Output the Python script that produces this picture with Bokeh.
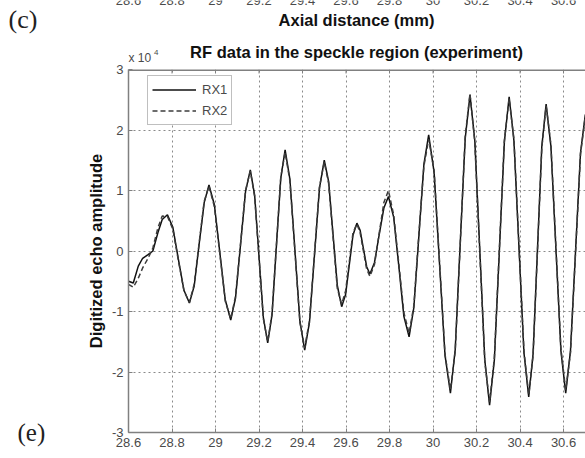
from bokeh.plotting import figure
from bokeh.layouts import column, row
from bokeh.models import Range1d, FixedTicker, PrintfTickFormatter, Label, Legend, LegendItem, Span
from bokeh.embed import file_html
from bokeh.resources import INLINE

# ---------------- data (amplitudes in units of 10^4) ----------------
axial_mm = [
    28.600, 28.622, 28.645, 28.665, 28.690, 28.712, 28.735, 28.755, 28.779, 28.804,
    28.829, 28.855, 28.880, 28.902, 28.925, 28.948, 28.970, 28.995, 29.020, 29.045,
    29.070, 29.092, 29.115, 29.138, 29.160, 29.180, 29.200, 29.220, 29.240, 29.260,
    29.280, 29.300, 29.320, 29.342, 29.365, 29.388, 29.410, 29.432, 29.455, 29.478,
    29.500, 29.520, 29.540, 29.560, 29.580, 29.598, 29.615, 29.632, 29.650, 29.665,
    29.680, 29.695, 29.710, 29.731, 29.752, 29.774, 29.795, 29.819, 29.843, 29.866,
    29.890, 29.912, 29.935, 29.958, 29.980, 30.005, 30.030, 30.055, 30.080, 30.102,
    30.125, 30.148, 30.170, 30.192, 30.215, 30.238, 30.260, 30.282, 30.305, 30.328,
    30.350, 30.372, 30.395, 30.418, 30.440, 30.460, 30.480, 30.500, 30.520, 30.542,
    30.565, 30.588, 30.610, 30.632, 30.655, 30.678, 30.700, 30.720,
]
rx1 = [
    -0.50, -0.53, -0.25, -0.12, -0.06, 0.00, 0.30, 0.52, 0.60, 0.39,
    -0.13, -0.65, -0.86, -0.58, 0.12, 0.80, 1.09, 0.76, -0.03, -0.81,
    -1.14, -0.78, 0.10, 0.98, 1.34, 0.92, -0.09, -1.10, -1.52, -1.05,
    0.08, 1.20, 1.67, 1.19, 0.02, -1.16, -1.64, -1.18, -0.07, 1.04,
    1.50, 1.15, 0.29, -0.57, -0.92, -0.72, -0.23, 0.26, 0.46, 0.34,
    0.04, -0.26, -0.38, -0.19, 0.26, 0.71, 0.90, 0.56, -0.26, -1.08,
    -1.42, -0.93, 0.25, 1.43, 1.92, 1.30, -0.22, -1.72, -2.35, -1.63,
    0.12, 1.86, 2.58, 1.83, 0.02, -1.80, -2.55, -1.80, 0.00, 1.80,
    2.55, 1.82, 0.07, -1.68, -2.41, -1.70, 0.01, 1.72, 2.43, 1.73,
    0.04, -1.65, -2.35, -1.65, -0.02, 1.62, 2.25, 2.30,
]
rx2 = [
    -0.55, -0.60, -0.45, -0.28, -0.12, 0.05, 0.38, 0.58, 0.57, 0.36,
    -0.15, -0.66, -0.85, -0.55, 0.14, 0.82, 1.07, 0.73, -0.05, -0.83,
    -1.12, -0.75, 0.12, 1.00, 1.32, 0.90, -0.11, -1.12, -1.50, -1.03,
    0.10, 1.22, 1.63, 1.16, 0.00, -1.18, -1.60, -1.15, -0.05, 1.06,
    1.47, 1.12, 0.25, -0.62, -0.88, -0.66, -0.18, 0.30, 0.45, 0.30,
    0.00, -0.30, -0.42, -0.22, 0.28, 0.80, 1.00, 0.60, -0.22, -1.02,
    -1.36, -0.90, 0.28, 1.40, 1.85, 1.33, -0.18, -1.70, -2.30, -1.66,
    0.10, 1.90, 2.60, 1.80, -0.02, -1.83, -2.50, -1.77, 0.03, 1.83,
    2.52, 1.85, 0.10, -1.65, -2.38, -1.73, -0.02, 1.70, 2.40, 1.76,
    0.07, -1.62, -2.30, -1.68, -0.05, 1.60, 2.22, 2.28,
]
series_names = ["RX1", "RX2"]
x_ticks = [28.6, 28.8, 29.0, 29.2, 29.4, 29.6, 29.8, 30.0, 30.2, 30.4, 30.6]
y_ticks = [-3, -2, -1, 0, 1, 2, 3]
title_text = "RF data in the speckle region (experiment)"
x_label = "Axial distance (mm)"
y_label = "Digitized echo amplitude"

# ---------------- geometry (page pixels) ----------------
W, H = 585, 458
FL, FR, FT, FB = 128, 585, 69, 432      # frame edges of the main plot
X0, X1 = 28.6, 30.701
Y0, Y1 = -3, 3
TOP_H = 63          # strip above the main plot
LEFT_W = 60         # strip left of the main plot
BOT_H = 4           # strip below the main plot
MID_H = H - TOP_H - BOT_H

def sx(px):
    return X0 + (px - FL) * (X1 - X0) / (FR - FL)

GRAY = "#808080"
TXT = "#4a4a4a"
FONT = "Liberation Sans"
SERIF = "Liberation Serif"

def no_frame_align(f):
    try:
        f.frame_align = False
    except Exception:
        pass

def strip(width, height, xr, yr):
    f = figure(width=width, height=height, x_range=xr, y_range=yr, title=None,
               output_backend="svg", toolbar_location=None,
               x_axis_location=None, y_axis_location=None,
               min_border=0, min_border_left=0, min_border_right=0,
               min_border_top=0, min_border_bottom=0)
    f.grid.visible = False
    f.outline_line_color = None
    f.background_fill_color = "white"
    f.border_fill_color = "white"
    no_frame_align(f)
    return f

def lab(f, x, baseline, text, size, align="left", bold=False, color="#111111", font=FONT):
    # labels are anchored at the middle of their text box; convert from a baseline
    k = 0.34 if font == SERIF else 0.35
    f.add_layout(Label(x=x, y=baseline - k * size, text=text, text_align=align,
                       text_baseline="middle", text_font=font,
                       text_font_size="%gpx" % size, text_color=color,
                       text_font_style="bold" if bold else "normal"))

# ---------------- main plot ----------------
p = figure(width=W - LEFT_W, height=MID_H, x_range=Range1d(X0, X1), y_range=Range1d(Y0, Y1),
           title=None, output_backend="svg", toolbar_location=None,
           min_border_left=FL - LEFT_W, min_border_right=W - FR,
           min_border_top=FT - TOP_H, min_border_bottom=TOP_H + MID_H - FB)
p.outline_line_color = None
p.background_fill_color = "white"
p.border_fill_color = "white"
no_frame_align(p)

r1 = p.line(axial_mm, rx1, line_color="#111111", line_width=1.5)
r2 = p.line(axial_mm, rx2, line_color="#3c3c3c", line_width=1.5, line_dash="5 3")

p.xaxis.ticker = FixedTicker(ticks=x_ticks)
p.yaxis.ticker = FixedTicker(ticks=y_ticks)
p.xaxis.formatter = PrintfTickFormatter(format="%g")
p.yaxis.formatter = PrintfTickFormatter(format="%g")
for ax in list(p.xaxis) + list(p.yaxis):
    ax.axis_line_color = GRAY
    ax.axis_line_width = 1.5
    ax.major_tick_line_color = GRAY
    ax.major_tick_in = 4
    ax.major_tick_out = 0
    ax.minor_tick_line_color = None
    ax.major_label_text_font = FONT
    ax.major_label_text_font_size = "13px"
    ax.major_label_text_color = TXT
    ax.major_label_standoff = 5
p.yaxis.axis_label = y_label
p.yaxis.axis_label_text_font = FONT
p.yaxis.axis_label_text_font_style = "bold"
p.yaxis.axis_label_text_font_size = "16.5px"
p.yaxis.axis_label_text_color = "#111111"
p.yaxis.axis_label_standoff = 4

# top edge of the box with inward ticks
p.add_layout(Span(location=Y1, dimension="width", line_color=GRAY, line_width=3))
tick_len = 4 * (Y1 - Y0) / (FB - FT)
p.segment(x0=x_ticks, y0=[Y1] * len(x_ticks), x1=x_ticks,
          y1=[Y1 - tick_len] * len(x_ticks), line_color=GRAY, line_width=1)

p.xgrid.ticker = FixedTicker(ticks=x_ticks)
p.ygrid.ticker = FixedTicker(ticks=y_ticks)
for g in (p.xgrid, p.ygrid):
    g.grid_line_color = "#8a8a8a"
    g.grid_line_dash = "2 3"
    g.grid_line_width = 1

legend = Legend(items=[LegendItem(label=series_names[0], renderers=[r1]),
                       LegendItem(label=series_names[1], renderers=[r2])],
                location=(19, 307), orientation="vertical",
                glyph_width=44, glyph_height=19, label_height=19,
                label_standoff=6, spacing=2, padding=4, margin=0,
                border_line_color=GRAY, border_line_width=1,
                background_fill_color="white", background_fill_alpha=1,
                label_text_font=FONT, label_text_font_size="13px",
                label_text_color=TXT)
p.add_layout(legend)

# ---------------- strip above: remnants of panel (c) and this title ----------------
top = strip(W, TOP_H, Range1d(sx(0), sx(W)), Range1d(TOP_H, 0))
for t in x_ticks:
    lab(top, t, 5, "%g" % t, 13, align="center", color=TXT)
lab(top, sx(356), 25, x_label, 16.5, align="center", bold=True)
lab(top, sx(8), 27.5, "(c)", 26, font=SERIF, color="#222222")
lab(top, sx(356), 57.5, title_text, 16.5, align="center", bold=True)
lab(top, sx(128), 62, "x 10", 12, color=TXT)
lab(top, sx(153.5), 55, "4", 8, color=TXT)

# ---------------- strip at left: panel letter (e) ----------------
left = strip(LEFT_W, MID_H, Range1d(0, LEFT_W), Range1d(TOP_H + MID_H, TOP_H))
lab(left, 17, 440, "(e)", 25, font=SERIF, color="#222222")

# ---------------- strip below: cut-off x label ----------------
bot = strip(W, BOT_H, Range1d(sx(0), sx(W)), Range1d(H, H - BOT_H))
lab(bot, sx(355), 466.5, x_label, 16.5, align="center", bold=True)

layout = column(top, row(left, p, spacing=0), bot, spacing=0)
open("out.html", "w").write(file_html(layout, INLINE))
